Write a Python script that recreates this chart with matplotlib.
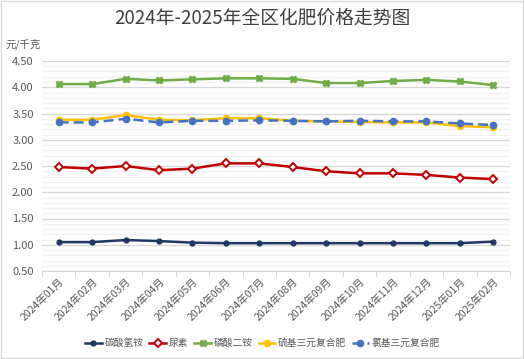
import matplotlib.pyplot as plt
from matplotlib.ticker import MultipleLocator, FixedLocator, NullFormatter

plt.rcParams['font.family'] = ['Noto Sans CJK SC', 'DejaVu Sans']

months = ['2024年01月', '2024年02月', '2024年03月', '2024年04月', '2024年05月',
          '2024年06月', '2024年07月', '2024年08月', '2024年09月', '2024年10月',
          '2024年11月', '2024年12月', '2025年01月', '2025年02月']
tansuan = [1.05, 1.05, 1.09, 1.07, 1.04, 1.03, 1.03, 1.03, 1.03, 1.03, 1.03, 1.03, 1.03, 1.06]
niaosu = [2.48, 2.45, 2.50, 2.42, 2.45, 2.55, 2.55, 2.48, 2.40, 2.36, 2.36, 2.33, 2.28, 2.25]
linsuan = [4.06, 4.06, 4.16, 4.13, 4.15, 4.17, 4.17, 4.16, 4.08, 4.08, 4.12, 4.14, 4.11, 4.04]
liuji = [3.38, 3.38, 3.47, 3.38, 3.37, 3.41, 3.41, 3.36, 3.35, 3.34, 3.33, 3.33, 3.26, 3.24]
lvji = [3.33, 3.33, 3.40, 3.33, 3.36, 3.36, 3.37, 3.36, 3.35, 3.36, 3.35, 3.35, 3.31, 3.28]

fig = plt.figure(figsize=(5.25, 3.59), dpi=100)
ax = fig.add_axes([42 / 525, 1 - 271 / 359, 468 / 525, 210 / 359])
x = list(range(len(months)))

ax.plot(x, tansuan, color='#1F3864', lw=1.8, marker='o', ms=3.5, label='碳酸氢铵')
ax.plot(x, niaosu, color='#C00000', lw=1.8, marker='D', ms=4, mfc='white', mew=1.4, label='尿素')
ax.plot(x, linsuan, color='#70AD47', lw=1.8, marker='X', ms=4.5, label='磷酸二铵')
ax.plot(x, liuji, color='#FFC000', lw=1.8, marker='o', ms=4.5, label='硫基三元复合肥')
ax.plot(x, lvji, color='#4472C4', lw=1.8, ls=(0, (4, 2)), marker='o', ms=4.5, label='氯基三元复合肥')

ax.set_xlim(-0.5, len(months) - 0.5)
ax.set_ylim(0.5, 4.5)
ax.yaxis.set_major_locator(MultipleLocator(0.5))
ax.yaxis.set_minor_locator(MultipleLocator(0.1))
ax.yaxis.set_major_formatter(plt.FuncFormatter(lambda v, p: f'{v:.2f}'))
ax.grid(which='major', axis='y', color='#D9D9D9', lw=1)
ax.grid(which='minor', axis='y', color='#F2F2F2', lw=1)
ax.set_axisbelow(True)

ax.xaxis.set_major_locator(FixedLocator([i - 0.5 for i in range(len(months) + 1)]))
ax.xaxis.set_major_formatter(NullFormatter())
ax.xaxis.set_minor_locator(FixedLocator(x))
ax.set_xticklabels(months, minor=True, rotation=45, ha='right', rotation_mode='anchor',
                   fontsize=7.5, color='#595959')
ax.tick_params(axis='x', which='major', length=4, color='#D9D9D9')
ax.tick_params(axis='x', which='minor', length=0, pad=4)
ax.tick_params(axis='y', which='both', length=0, labelsize=8, labelcolor='#595959', pad=6)

for s in ['top', 'right', 'left']:
    ax.spines[s].set_visible(False)
ax.spines['bottom'].set_color('#D9D9D9')

fig.text(0.5, 1 - 18 / 359, '2024年-2025年全区化肥价格走势图', ha='center', va='center',
         fontsize=13.5, color='#404040')
fig.text(5 / 525, 1 - 44 / 359, '元/千克', ha='left', va='center', fontsize=7.5, color='#595959')

fig.legend(loc='center', bbox_to_anchor=(0.5, 1 - 343 / 359), ncol=5, frameon=False,
           fontsize=7, handlelength=1.7, columnspacing=0.6, handletextpad=0.3,
           labelcolor='#595959')

fig.patches.append(plt.Rectangle((0.002, 0.003), 0.994, 0.994, transform=fig.transFigure,
                                 fill=False, edgecolor='#D9D9D9', lw=1))

fig.savefig('out.png', dpi=100)
